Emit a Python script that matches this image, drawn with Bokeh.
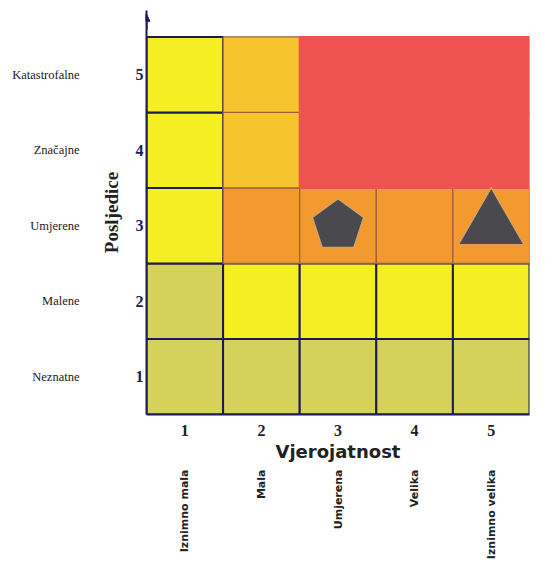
from math import pi
from bokeh.plotting import figure
from bokeh.models import Range1d, FixedTicker, LinearAxis, ColumnDataSource, Arrow, NormalHead
from bokeh.embed import file_html
from bokeh.resources import INLINE

likelihood = [1, 2, 3, 4, 5]
consequence = [1, 2, 3, 4, 5]
likelihood_labels = ["Iznimno mala", "Mala", "Umjerena", "Velika", "Iznimno velika"]
consequence_labels = ["Neznatne", "Malene", "Umjerene", "Značajne", "Katastrofalne"]
# zone of each cell, rows = consequence 1..5, columns = likelihood 1..5
zones = [
    ["low", "low", "low", "low", "low"],
    ["low", "med", "med", "med", "med"],
    ["med", "high", "high", "high", "high"],
    ["med", "elev", "crit", "crit", "crit"],
    ["med", "elev", "crit", "crit", "crit"],
]
zone_fill = {"low": "#d5d15a", "med": "#f5ee22", "elev": "#f6c42c", "high": "#f29a2e", "crit": "#ef5350"}
zone_line = {"low": "#1b1b55", "med": "#1b1b55", "elev": "#9a5f3a", "high": "#9a5f3a", "crit": "#ef5350"}
zone_width = {"low": 2, "med": 2, "elev": 1.2, "high": 1.2, "crit": 2}
zone_order = {"low": 0, "med": 0, "elev": 1, "high": 1, "crit": 2}

risk_x_pent = [3]
risk_y_pent = [3]
risk_x_tri = [5]
risk_y_tri = [3]

cells = []
for i, c in enumerate(consequence):
    for j, l in enumerate(likelihood):
        cells.append((zone_order[zones[i][j]], l, c, zones[i][j]))
cells.sort(key=lambda t: t[0])
src = ColumnDataSource(dict(
    x=[t[1] for t in cells],
    y=[t[2] for t in cells],
    fill=[zone_fill[t[3]] for t in cells],
    line=[zone_line[t[3]] for t in cells],
    lw=[zone_width[t[3]] for t in cells],
))

y_top = 5.85
p = figure(width=548, height=563, output_backend="svg", toolbar_location=None,
           x_range=Range1d(0.5, 5.5), y_range=Range1d(0.5, y_top),
           x_axis_location=None, y_axis_location=None,
           min_border_left=146, min_border_right=19, min_border_top=10, min_border_bottom=149)
p.outline_line_color = None
p.xgrid.visible = False
p.ygrid.visible = False
p.background_fill_color = "white"

p.rect(x="x", y="y", width=1, height=1, fill_color="fill", line_color="line",
       line_width="lw", source=src)

p.ngon(x=risk_x_pent, y=risk_y_pent, radius=27, radius_units="screen", n=5, angle=0,
       fill_color="#4a4a4e", line_color="#d9a066", line_width=1.5)
p.scatter(x=risk_x_tri, y=risk_y_tri, marker="triangle", size=66,
          fill_color="#4a4a4e", line_color="#d9a066", line_width=1.5)

p.add_layout(Arrow(x_start=0.5, y_start=5.6, x_end=0.5, y_end=5.8, line_color="#1b1b55", line_width=2,
                   end=NormalHead(size=7, fill_color="#1b1b55", line_color="#1b1b55")))

# y axes
ynum = LinearAxis(ticker=FixedTicker(ticks=consequence), axis_label="Posljedice")
ynum.axis_line_color = "#1b1b55"
ynum.axis_line_width = 2
ynum.major_tick_line_color = None
ynum.minor_tick_line_color = None
ynum.major_tick_out = 0
ynum.major_tick_in = 0
ynum.major_label_standoff = 3
ynum.major_label_text_font = "Liberation Serif"
ynum.major_label_text_font_style = "bold"
ynum.major_label_text_font_size = "16px"
ynum.major_label_text_color = "#1c1c5c"
ynum.axis_label_text_font = "Liberation Serif"
ynum.axis_label_text_font_style = "bold"
ynum.axis_label_text_font_size = "19px"
ynum.axis_label_text_color = "#222222"
ynum.axis_label_standoff = 11
p.add_layout(ynum, "left")

ywords = LinearAxis(ticker=FixedTicker(ticks=consequence),
                    major_label_overrides=dict(zip(consequence, consequence_labels)))
ywords.axis_line_color = None
ywords.major_tick_line_color = None
ywords.minor_tick_line_color = None
ywords.major_tick_out = 0
ywords.major_tick_in = 0
ywords.major_label_standoff = 18
ywords.major_label_text_font = "Liberation Serif"
ywords.major_label_text_font_size = "12.5px"
ywords.major_label_text_color = "#1a1a1a"
p.add_layout(ywords, "left")

# x axes
xnum = LinearAxis(ticker=FixedTicker(ticks=likelihood), axis_label="Vjerojatnost")
xnum.axis_line_color = "#1b1b55"
xnum.axis_line_width = 2
xnum.major_tick_line_color = None
xnum.minor_tick_line_color = None
xnum.major_tick_out = 0
xnum.major_tick_in = 0
xnum.major_label_standoff = 10
xnum.major_label_text_font = "Liberation Serif"
xnum.major_label_text_font_style = "bold"
xnum.major_label_text_font_size = "16px"
xnum.major_label_text_color = "#222222"
xnum.axis_label_text_font = "DejaVu Sans"
xnum.axis_label_text_font_style = "bold"
xnum.axis_label_text_font_size = "18px"
xnum.axis_label_text_color = "#222222"
xnum.axis_label_standoff = 2
p.add_layout(xnum, "below")

xwords = LinearAxis(ticker=FixedTicker(ticks=likelihood),
                    major_label_overrides=dict(zip(likelihood, likelihood_labels)))
xwords.axis_line_color = None
xwords.major_tick_line_color = None
xwords.minor_tick_line_color = None
xwords.major_tick_out = 0
xwords.major_tick_in = 0
xwords.major_label_standoff = 5
xwords.major_label_orientation = pi / 2
xwords.major_label_text_font = "DejaVu Sans"
xwords.major_label_text_font_style = "bold"
xwords.major_label_text_font_size = "11px"
xwords.major_label_text_color = "#222222"
p.add_layout(xwords, "below")

open("out.html", "w").write(file_html(p, INLINE))
